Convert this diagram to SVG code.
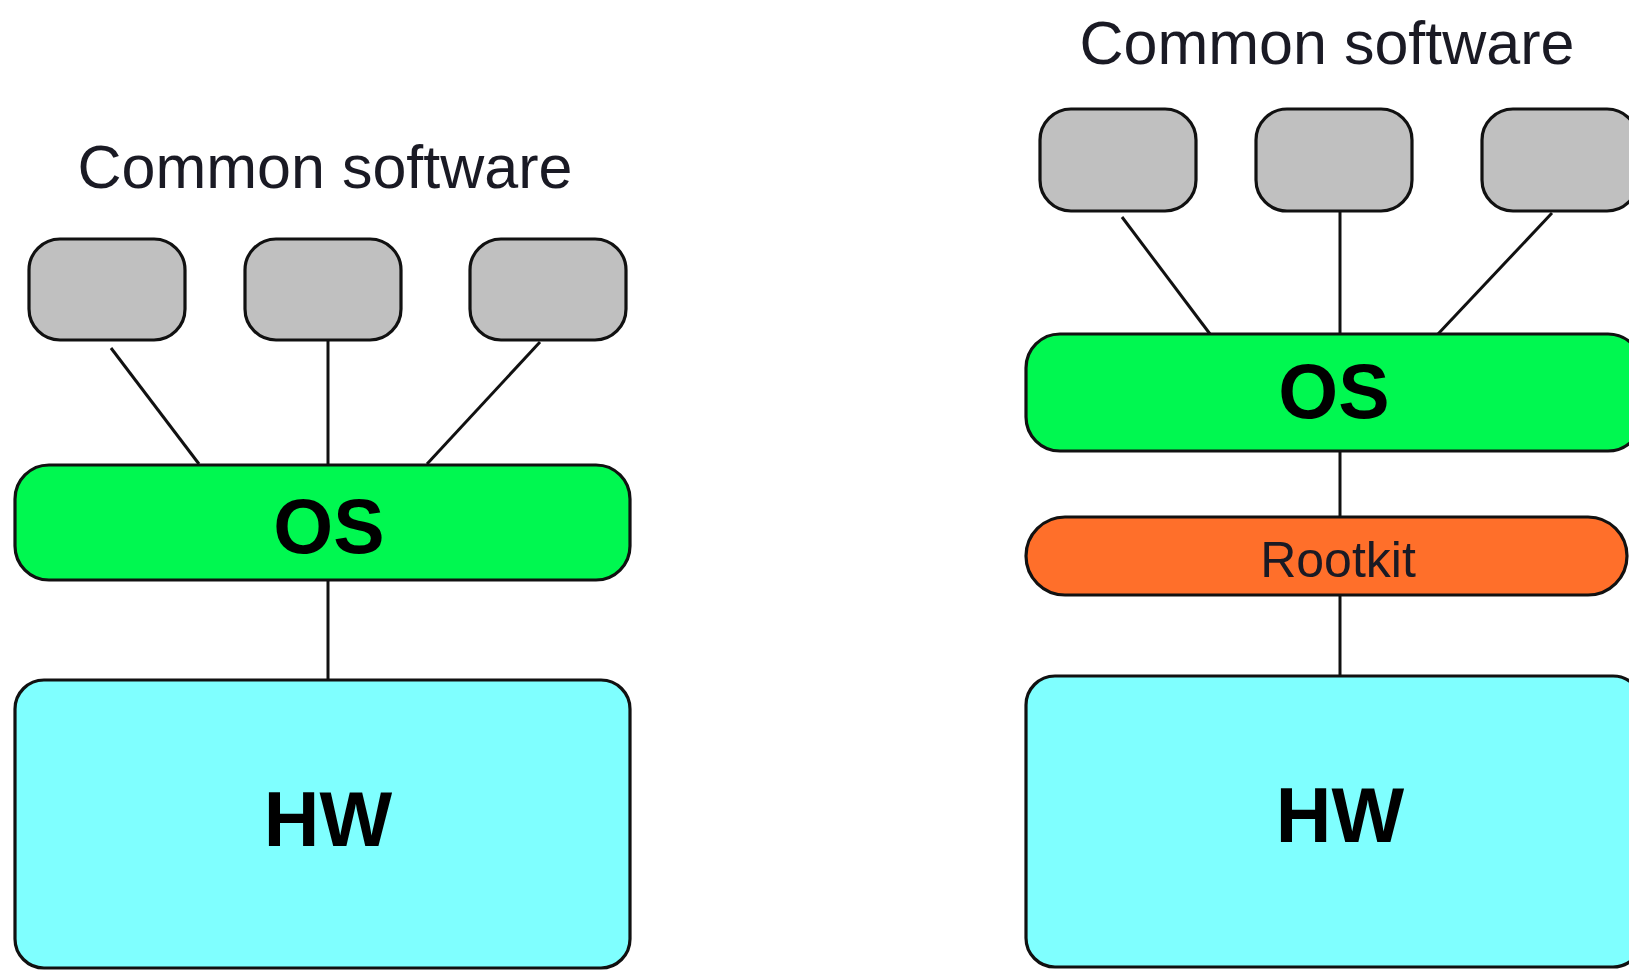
<svg xmlns="http://www.w3.org/2000/svg" width="1629" height="970" viewBox="0 0 1629 970">
  <style>
    .title { font-family: "Liberation Sans", Arial, sans-serif; font-size: 61px; fill: #1a1a24; text-anchor: middle; }
    .big { font-family: "Liberation Sans", Arial, sans-serif; font-weight: bold; font-size: 77px; fill: #000; text-anchor: middle; }
    .rk { font-family: "Liberation Sans", Arial, sans-serif; font-size: 50px; fill: #1a1a24; text-anchor: middle; }
    .app { fill: #C0C0C0; stroke: #111; stroke-width: 3.2; }
    .os { fill: #00F850; stroke: #111; stroke-width: 3.2; }
    .hw { fill: #7FFFFF; stroke: #111; stroke-width: 3.2; }
    .root { fill: #FF6F2A; stroke: #111; stroke-width: 3.2; }
    .conn line { stroke: #111; stroke-width: 3; }
  </style>
  <rect width="1629" height="970" fill="#fff"/>

  <g id="connectors" class="conn">
    <line x1="111" y1="348" x2="199" y2="464"/>
    <line x1="328" y1="340" x2="328" y2="465"/>
    <line x1="540" y1="342" x2="427" y2="464"/>
    <line x1="328" y1="580" x2="328" y2="680"/>
    <line x1="1122" y1="217" x2="1210" y2="334"/>
    <line x1="1340" y1="211" x2="1340" y2="334"/>
    <line x1="1552" y1="213" x2="1438" y2="334"/>
    <line x1="1340" y1="451" x2="1340" y2="517"/>
    <line x1="1340" y1="595" x2="1340" y2="676"/>
  </g>

  <g id="title-left"><text class="title" x="325" y="188">Common software</text></g>
  <g id="app-l1"><rect class="app" x="29" y="239" width="156" height="101" rx="31"/></g>
  <g id="app-l2"><rect class="app" x="245" y="239" width="156" height="101" rx="31"/></g>
  <g id="app-l3"><rect class="app" x="470" y="239" width="156" height="101" rx="31"/></g>
  <g id="os-left"><rect class="os" x="15" y="465" width="615" height="115" rx="34"/><text class="big" x="329" y="553">OS</text></g>
  <g id="hw-left"><rect class="hw" x="15" y="680" width="615" height="288" rx="29"/><text class="big" x="328" y="846">HW</text></g>

  <g id="title-right"><text class="title" x="1327" y="64">Common software</text></g>
  <g id="app-r1"><rect class="app" x="1040" y="109" width="156" height="102" rx="31"/></g>
  <g id="app-r2"><rect class="app" x="1256" y="109" width="156" height="102" rx="31"/></g>
  <g id="app-r3"><rect class="app" x="1482" y="109" width="156" height="102" rx="31"/></g>
  <g id="os-right"><rect class="os" x="1026" y="334" width="616" height="117" rx="34"/><text class="big" x="1334" y="418">OS</text></g>
  <g id="rootkit"><rect class="root" x="1026" y="517" width="601" height="78" rx="39"/><text class="rk" x="1338" y="577">Rootkit</text></g>
  <g id="hw-right"><rect class="hw" x="1026" y="676" width="616" height="291" rx="29"/><text class="big" x="1340" y="842">HW</text></g>
</svg>
